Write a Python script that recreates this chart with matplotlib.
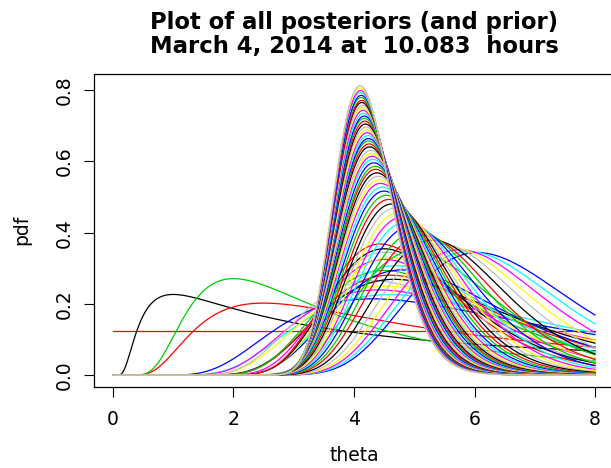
import numpy as np
import matplotlib
matplotlib.use("Agg")
import matplotlib.pyplot as plt

plt.rcParams['font.family'] = ['DejaVu Sans']

# ---- data ----
theta_min, theta_max = 0.0, 8.0
prior_density = 0.125
# mode of the posterior after n observations (n = 1, 2, ...)
post_mode = [
    1.00, 2.50, 2.00, 4.30, 4.60, 4.40, 4.50, 4.30,
    4.67, 4.60, 4.50, 4.80, 4.70, 4.50, 4.60, 4.50,
    4.50, 4.44, 5.00, 6.05, 5.90, 5.75, 5.60, 5.45,
    5.30, 5.15, 5.05, 4.95, 4.87, 4.80, 4.74, 4.68,
    4.63, 4.58, 4.54, 4.50, 4.47, 4.44, 4.42, 4.40,
    4.38, 4.36, 4.35, 4.33, 4.31, 4.30, 4.29, 4.28,
    4.26, 4.25, 4.24, 4.24, 4.23, 4.22, 4.21, 4.20,
    4.19, 4.18, 4.17, 4.17, 4.16, 4.15, 4.14, 4.14,
    4.13, 4.13, 4.12, 4.12, 4.11, 4.11, 4.10, 4.10,
]
r_palette = ['#000000', '#FF0000', '#00CD00', '#0000FF',
             '#00FFFF', '#FF00FF', '#FFFF00', '#BEBEBE']
title_lines = ['Plot of all posteriors (and prior)',
               'March 4, 2014 at  10.083  hours']
x_ticks = [0, 2, 4, 6, 8]
y_ticks = [0.0, 0.2, 0.4, 0.6, 0.8]
y_tick_labels = ['0.0', '0.2', '0.4', '0.6', '0.8']

# ---- posterior densities: theta^-n exp(-S/theta) on [0, 8], S = n * mode ----
theta = np.linspace(theta_min, theta_max, 801)
curves = []
for i, m in enumerate(post_mode):
    n = i + 1
    S = n * m
    t = theta[1:]
    logf = -n * np.log(t) - S / t
    f = np.exp(logf - logf.max())
    f = np.concatenate([[0.0], f])
    f = f / np.trapezoid(f, theta)
    curves.append(f)

W, H = 611, 468
fig = plt.figure(figsize=(W / 100, H / 100), dpi=100)
ymax = max(c.max() for c in curves)
span = theta_max - theta_min
x0, x1 = theta_min - 0.04 * span, theta_max + 0.04 * span
y0, y1 = -0.04 * ymax, ymax * 1.04
left_px, right_px = 93.7, 614.3
bot_px, top_px = 386.7, 74.0
ax = fig.add_axes([left_px / W, 1 - bot_px / H, (right_px - left_px) / W, (bot_px - top_px) / H])
ax.set_xlim(x0, x1)
ax.set_ylim(y0, y1)

lw = 0.9
ax.plot([theta_min, theta_max], [prior_density, prior_density], color='#FF0000', lw=lw)
for i, f in enumerate(curves):
    ax.plot(theta, f, color=r_palette[i % 8], lw=lw)

fs = 13.5
ax.set_xticks(x_ticks)
ax.set_xticklabels([str(v) for v in x_ticks])
ax.set_yticks(y_ticks)
ax.set_yticklabels(y_tick_labels, rotation=90, va='center')
ax.tick_params(axis='both', direction='out', length=7.2, width=0.8, labelsize=fs, colors='black')
ax.tick_params(axis='x', pad=9.5)
ax.tick_params(axis='y', pad=7.5)
for s in ax.spines.values():
    s.set_linewidth(0.9)

ax.set_xlabel('theta', fontsize=fs)
ax.set_ylabel('pdf', fontsize=fs)
ax.xaxis.set_label_coords(0.5, -(455.5 - bot_px) / (bot_px - top_px))
ax.xaxis.label.set_va('center')
ax.yaxis.set_label_coords(-(left_px - 21.5) / (right_px - left_px), 0.5)
ax.yaxis.label.set_va('center')

cx = (left_px + right_px) / 2 / W
fig.text(cx, 1 - 29.3 / H, title_lines[0], ha='center', va='baseline', fontsize=16.4, fontweight='bold')
fig.text(cx, 1 - 53.3 / H, title_lines[1], ha='center', va='baseline', fontsize=16.4, fontweight='bold')

fig.savefig('out.png', dpi=100)
